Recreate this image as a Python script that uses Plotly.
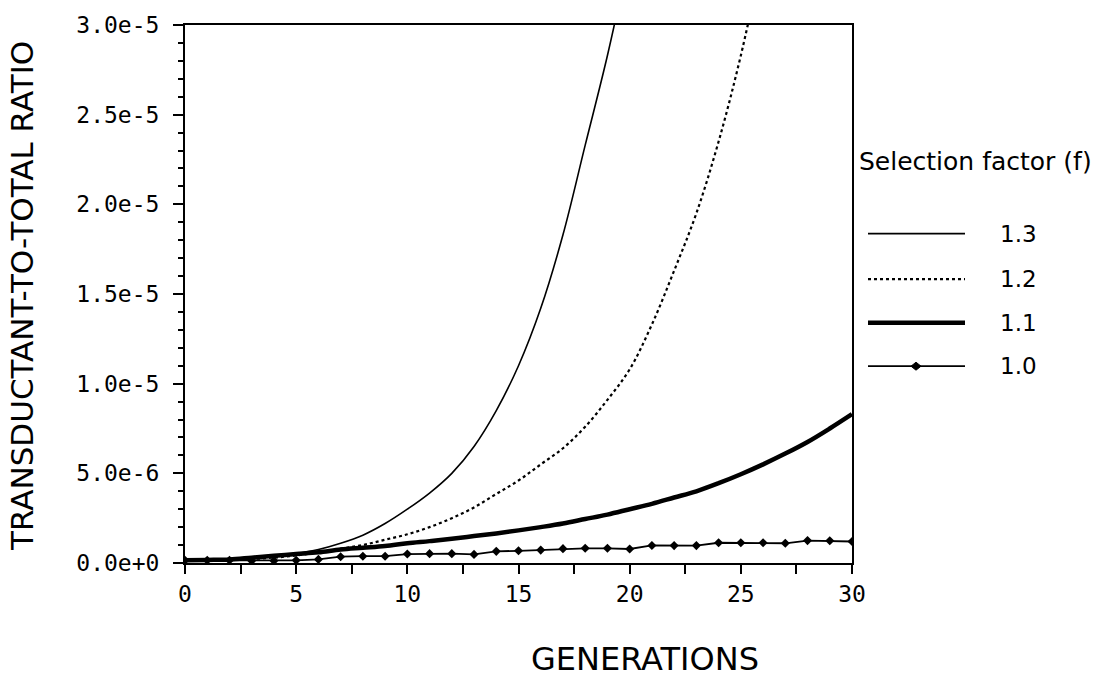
import plotly.graph_objects as go

# ---------------- data (values in units of 1e-6) ----------------
SCALE = 1e-6
gen_13 = list(range(0, 21))
val_13 = [0.15, 0.17, 0.20, 0.27, 0.37, 0.52, 0.75, 1.10, 1.55, 2.20,
          3.00, 3.90, 5.00, 6.50, 8.50, 11.0, 14.2, 18.3, 23.3, 28.3, 34.0]

gen_12 = list(range(0, 27))
val_12 = [0.15, 0.16, 0.18, 0.22, 0.30, 0.42, 0.60, 0.80, 1.00, 1.30,
          1.60, 2.00, 2.50, 3.10, 3.85, 4.60, 5.50, 6.40, 7.60, 9.10,
          10.8, 13.3, 16.3, 19.5, 23.5, 28.3, 34.0]

gen_11 = list(range(0, 31))
val_11 = [0.15, 0.17, 0.20, 0.30, 0.40, 0.50, 0.60, 0.75, 0.85, 0.95,
          1.10, 1.22, 1.35, 1.50, 1.65, 1.82, 2.00, 2.20, 2.45, 2.70,
          3.00, 3.30, 3.65, 4.00, 4.45, 4.95, 5.50, 6.10, 6.75, 7.50, 8.30]

gen_10 = list(range(0, 31))
val_10 = [0.15, 0.15, 0.15, 0.12, 0.12, 0.15, 0.20, 0.35, 0.38, 0.38,
          0.50, 0.52, 0.52, 0.48, 0.65, 0.68, 0.72, 0.80, 0.82, 0.82,
          0.78, 0.98, 0.97, 0.97, 1.13, 1.13, 1.13, 1.10, 1.25, 1.24, 1.20]

series_names = ["1.3", "1.2", "1.1", "1.0"]
x_tickvals = [0, 5, 10, 15, 20, 25, 30]
x_ticktext = ["0", "5", "10", "15", "20", "25", "30"]
y_tickvals = [0, 5e-6, 1e-5, 1.5e-5, 2e-5, 2.5e-5, 3e-5]
y_ticktext = ["0.0e+0", "5.0e-6", "1.0e-5", "1.5e-5", "2.0e-5", "2.5e-5", "3.0e-5"]

x_title = "GENERATIONS"
y_title = "TRANSDUCTANT-TO-TOTAL RATIO"
legend_title = "Selection factor (f)"

# ---------------- figure ----------------
BLACK = "#000000"
MONO = "DejaVu Sans Mono"
SANS = "DejaVu Sans"

fig = go.Figure()
fig.add_trace(go.Scatter(x=gen_13, y=[v * SCALE for v in val_13], mode="lines",
                         line=dict(color=BLACK, width=1.6, shape="spline", smoothing=1.0),
                         name=series_names[0], showlegend=False))
fig.add_trace(go.Scatter(x=gen_12, y=[v * SCALE for v in val_12], mode="lines",
                         line=dict(color=BLACK, width=2.2, dash="dot", shape="spline", smoothing=1.0),
                         name=series_names[1], showlegend=False))
fig.add_trace(go.Scatter(x=gen_11, y=[v * SCALE for v in val_11], mode="lines",
                         line=dict(color=BLACK, width=4.5, shape="spline", smoothing=1.0),
                         name=series_names[2], showlegend=False))
fig.add_trace(go.Scatter(x=gen_10, y=[v * SCALE for v in val_10], mode="lines+markers",
                         line=dict(color=BLACK, width=1.8),
                         marker=dict(symbol="diamond", size=7, color=BLACK),
                         name=series_names[3], showlegend=False))

L, R, T, B = 185, 852, 19, 563
W, H = 1109, 697
pw, ph = R - L, B - T

def px(xp):
    return (xp - L) / pw

def py(yp):
    return (B - yp) / ph

fig.update_layout(
    width=W, height=H,
    margin=dict(l=L, r=W - R, t=T, b=H - B),
    paper_bgcolor="white", plot_bgcolor="white",
    showlegend=False,
    font=dict(family=MONO, color=BLACK, size=20),
)
fig.update_xaxes(range=[0, 30], showgrid=False, zeroline=False,
                 showline=True, linecolor=BLACK, linewidth=2, mirror=True,
                 tickvals=x_tickvals, ticktext=x_ticktext,
                 ticks="outside", ticklen=9, tickwidth=2, tickcolor=BLACK,
                 minor=dict(tickvals=[2.5, 7.5, 12.5, 17.5, 22.5, 27.5], ticks="outside",
                            ticklen=9, tickwidth=2, tickcolor=BLACK),
                 tickfont=dict(family=MONO, size=23, color=BLACK))
fig.update_yaxes(range=[0, 3e-5], showgrid=False, zeroline=False,
                 showline=True, linecolor=BLACK, linewidth=2, mirror=True,
                 tickvals=y_tickvals, ticktext=y_ticktext,
                 ticks="outside", ticklen=10, tickwidth=2, tickcolor=BLACK,
                 ticklabelstandoff=9,
                 minor=dict(dtick=1e-6, tick0=0, ticks="outside", ticklen=5,
                            tickwidth=2, tickcolor=BLACK),
                 tickfont=dict(family=MONO, size=23, color=BLACK))

# axis titles
fig.add_annotation(text=x_title, xref="paper", yref="paper", x=px(645), y=py(660),
                   xanchor="center", yanchor="middle", showarrow=False,
                   font=dict(family=SANS, size=32, color=BLACK))
fig.add_annotation(text=y_title, xref="paper", yref="paper", x=px(22), y=py(293),
                   xanchor="center", yanchor="middle", showarrow=False, textangle=-90,
                   font=dict(family=SANS, size=31, color=BLACK))

# legend drawn manually
fig.add_annotation(text=legend_title, xref="paper", yref="paper", x=px(857), y=py(157),
                   xanchor="left", yanchor="middle", showarrow=False,
                   font=dict(family=SANS, size=25, color=BLACK))
leg_y = [230, 276, 320, 364]
leg_styles = [dict(width=1.6, dash="solid"), dict(width=2.2, dash="dot"),
              dict(width=4.5, dash="solid"), dict(width=1.8, dash="solid")]
for name, yy, st in zip(series_names, leg_y, leg_styles):
    fig.add_shape(type="line", xref="paper", yref="paper",
                  x0=px(868), x1=px(965), y0=py(yy), y1=py(yy),
                  line=dict(color=BLACK, width=st["width"], dash=st["dash"]))
    fig.add_annotation(text=name, xref="paper", yref="paper", x=px(998), y=py(yy),
                       xanchor="left", yanchor="middle", showarrow=False,
                       font=dict(family=SANS, size=23, color=BLACK))
fig.add_shape(type="path", xref="paper", yref="paper", xsizemode="pixel", ysizemode="pixel",
              xanchor=px(916), yanchor=py(364), path="M -5 0 L 0 4 L 5 0 L 0 -4 Z",
              fillcolor=BLACK, line=dict(color=BLACK, width=1))

fig.write_html("out.html")
